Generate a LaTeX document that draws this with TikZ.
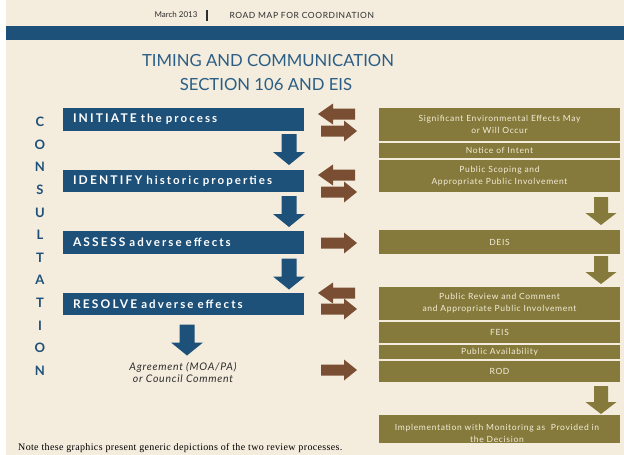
\documentclass[tikz,border=0pt]{standalone}
\usepackage{fontspec}
\setmainfont{Lato}
\newfontfamily\notefont{Liberation Serif}
\definecolor{cream}{HTML}{F4ECDD}
\definecolor{boxblue}{HTML}{1E5179}
\definecolor{titleblue}{HTML}{2A5E86}
\definecolor{olive}{HTML}{857A3C}
\definecolor{olivetext}{HTML}{F4EDD8}
\definecolor{brownc}{HTML}{7A4E32}
\definecolor{headtext}{HTML}{2E2E2E}
\tikzset{
  bluebox/.style={rectangle, fill=boxblue, text=white, minimum width=241pt, text width=221pt, inner xsep=10pt, inner ysep=0pt, align=left, font=\fontsize{12}{14}\selectfont\bfseries\addfontfeature{LetterSpace=18}},
  olivebox/.style={rectangle, fill=olive, text=olivetext, minimum width=241pt, text width=235pt, inner xsep=3pt, inner ysep=0pt, align=center, font=\fontsize{8.5}{12}\selectfont\addfontfeature{LetterSpace=8}},
  letter/.style={text=boxblue, font=\fontsize{13}{12}\selectfont\bfseries, inner sep=0pt},
  bluedown/.pic={\fill[boxblue] (-7.5,-15.5) -- (7.5,-15.5) -- (7.5,2.5) -- (16,2.5) -- (0,15.5) -- (-16,2.5) -- (-7.5,2.5) -- cycle;},
  olivedown/.pic={\fill[olive] (-7,-14) -- (7,-14) -- (7,2) -- (15.5,2) -- (0,14) -- (-15.5,2) -- (-7,2) -- cycle;},
  brownright/.pic={\fill[brownc] (-18,-5.5) -- (5,-5.5) -- (5,-10.5) -- (18,0) -- (5,10.5) -- (5,5.5) -- (-18,5.5) -- cycle;},
  brownleft/.pic={\fill[brownc] (18,-5.5) -- (-4,-5.5) -- (-4,-10.5) -- (-19,0) -- (-4,10.5) -- (-4,5.5) -- (18,5.5) -- cycle;},
}
\begin{document}
\begin{tikzpicture}[x=1pt,y=-1pt]
\useasboundingbox (0,0) rectangle (624,455);
\fill[white] (0,0) rectangle (624,455);
\fill[cream] (6,0) rectangle (624,455);
\fill[boxblue] (6,26) rectangle (624,40);
% header
\node[text=headtext, font=\fontsize{8}{10}\selectfont, anchor=east] (date) at (201,15) {March 2013};
\node[fill=headtext, minimum width=1.6pt, minimum height=11pt, inner sep=0pt] (bar) at (207,15) {};
\node[text=headtext, font=\fontsize{8.5}{10}\selectfont\addfontfeature{LetterSpace=7}, anchor=west] (roadmap) at (226,15) {ROAD MAP FOR COORDINATION};
% title
\node[text=titleblue, font=\fontsize{16.7}{20}\selectfont] (title1) at (268,61) {TIMING AND COMMUNICATION};
\node[text=titleblue, font=\fontsize{16.7}{20}\selectfont] (title2) at (266,85) {SECTION 106 AND EIS};
% consultation
\foreach \l [count=\i] in {C,O,N,S,U,L,T,A,T,I,O,N}{
  \node[letter] (c\i) at (40,{122+(\i-1)*22.6}) {\l};
}
% blue boxes
\node[bluebox, minimum height=23pt] (initiate) at (183.5,119.5) {INITIATE \fontsize{11.5}{13}\selectfont the process};
\node[bluebox, minimum height=22pt] (identify) at (183.5,181) {IDENTIFY \fontsize{11.5}{13}\selectfont historic properties};
\node[bluebox, minimum height=23pt] (assess) at (183.5,242.5) {ASSESS \fontsize{11.5}{13}\selectfont adverse effects};
\node[bluebox, minimum height=22pt] (resolve) at (183.5,304) {RESOLVE \fontsize{11.5}{13}\selectfont adverse effects};
\pic at (289,149.5) {bluedown};
\pic at (289,211.5) {bluedown};
\pic at (289,274) {bluedown};
\pic at (187,340) {bluedown};
\node[text=headtext, font=\fontsize{10.5}{12}\selectfont\itshape\addfontfeature{LetterSpace=7}, align=center] (agree) at (183,372.5) {Agreement (MOA/PA)\\or Council Comment};
% olive boxes
\node[olivebox, minimum height=33pt] (sig) at (499.5,124.5) {Significant Environmental Effects May\\or Will Occur};
\node[olivebox, minimum height=15pt] (noi) at (499.5,150.5) {Notice of Intent};
\node[olivebox, minimum height=32pt] (scoping) at (499.5,176) {Public Scoping and\\Appropriate Public Involvement};
\node[olivebox, minimum height=24pt] (deis) at (499.5,242) {DEIS};
\node[olivebox, minimum height=33pt] (review) at (499.5,303.5) {Public Review and Comment\\and Appropriate Public Involvement};
\node[olivebox, minimum height=21pt] (feis) at (499.5,332.5) {FEIS};
\node[olivebox, minimum height=14pt] (avail) at (499.5,352) {Public Availability};
\node[olivebox, minimum height=21pt] (rod) at (499.5,371.5) {ROD};
\node[olivebox, minimum height=28pt] (impl) at (499.5,429) {};
\node[text=olivetext, font=\fontsize{8.5}{12.5}\selectfont\addfontfeature{LetterSpace=8}, align=center, inner sep=0pt] (impltext) at (497,433.5) {Implementation with Monitoring as \ Provided in\\the Decision};
\pic at (601,211) {olivedown};
\pic at (601,270) {olivedown};
\pic at (601,400) {olivedown};
% brown arrows
\pic at (337,114) {brownleft};
\pic at (339,131) {brownright};
\pic at (337,175) {brownleft};
\pic at (339,192) {brownright};
\pic at (339,243) {brownright};
\pic at (337,293) {brownleft};
\pic at (339,309) {brownright};
\pic at (339,370) {brownright};
% note
\node[text=black, font=\notefont\fontsize{10}{11}\selectfont\addfontfeature{LetterSpace=3.5}, anchor=west, inner sep=0pt] (note) at (18,448) {Note these graphics present generic depictions of the two review processes.};
\end{tikzpicture}
\end{document}
